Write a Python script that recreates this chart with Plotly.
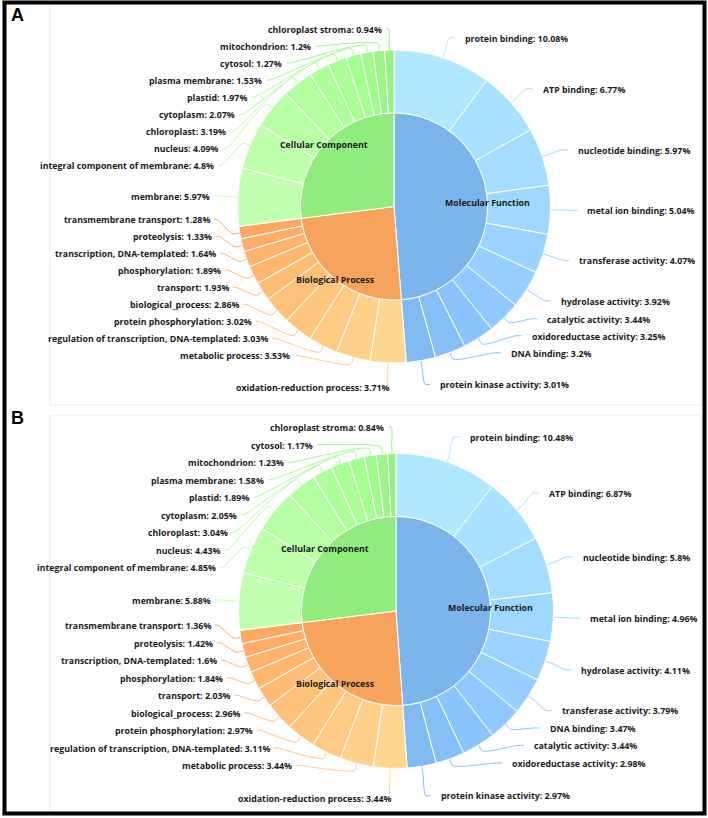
import math
import plotly.graph_objects as go

W, H = 708, 818

CATEGORIES = ["Molecular Function", "Biological Process", "Cellular Component"]
BASE_COLORS = ["#7cb5ec", "#f7a35c", "#90ed7d"]

# ---------------- Panel A data ----------------
A_MF_TERMS = ["protein binding", "ATP binding", "nucleotide binding", "metal ion binding",
              "transferase activity", "hydrolase activity", "catalytic activity",
              "oxidoreductase activity", "DNA binding", "protein kinase activity"]
A_MF_VALUES = [10.08, 6.77, 5.97, 5.04, 4.07, 3.92, 3.44, 3.25, 3.2, 3.01]
A_BP_TERMS = ["oxidation-reduction process", "metabolic process",
              "regulation of transcription, DNA-templated", "protein phosphorylation",
              "biological_process", "transport", "phosphorylation",
              "transcription, DNA-templated", "proteolysis", "transmembrane transport"]
A_BP_VALUES = [3.71, 3.53, 3.03, 3.02, 2.86, 1.93, 1.89, 1.64, 1.33, 1.28]
A_CC_TERMS = ["membrane", "integral component of membrane", "nucleus", "chloroplast",
              "cytoplasm", "plastid", "plasma membrane", "cytosol", "mitochondrion",
              "chloroplast stroma"]
A_CC_VALUES = [5.97, 4.8, 4.09, 3.19, 2.07, 1.97, 1.53, 1.27, 1.2, 0.94]

# ---------------- Panel B data ----------------
B_MF_TERMS = ["protein binding", "ATP binding", "nucleotide binding", "metal ion binding",
              "hydrolase activity", "transferase activity", "DNA binding",
              "catalytic activity", "oxidoreductase activity", "protein kinase activity"]
B_MF_VALUES = [10.48, 6.87, 5.8, 4.96, 4.11, 3.79, 3.47, 3.44, 2.98, 2.97]
B_BP_TERMS = ["oxidation-reduction process", "metabolic process",
              "regulation of transcription, DNA-templated", "protein phosphorylation",
              "biological_process", "transport", "phosphorylation",
              "transcription, DNA-templated", "proteolysis", "transmembrane transport"]
B_BP_VALUES = [3.44, 3.44, 3.11, 2.97, 2.96, 2.03, 1.84, 1.6, 1.42, 1.36]
B_CC_TERMS = ["membrane", "integral component of membrane", "nucleus", "chloroplast",
              "cytoplasm", "plastid", "plasma membrane", "mitochondrion", "cytosol",
              "chloroplast stroma"]
B_CC_VALUES = [5.88, 4.85, 4.43, 3.04, 2.05, 1.89, 1.58, 1.23, 1.17, 0.84]

PANELS = [
    dict(letter="A",
         groups=[(A_MF_TERMS, A_MF_VALUES), (A_BP_TERMS, A_BP_VALUES), (A_CC_TERMS, A_CC_VALUES)],
         cx=394, cy=206.5, R=156.5, Rin=93.5, s=1.0, box=(50, 4, 701, 405), letter_y=15),
    dict(letter="B",
         groups=[(B_MF_TERMS, B_MF_VALUES), (B_BP_TERMS, B_BP_VALUES), (B_CC_TERMS, B_CC_VALUES)],
         cx=396, cy=611, R=157.5, Rin=94.5, s=1.03, box=(50, 415, 701, 813), letter_y=418),
]

LABEL_FONT = dict(family="Open Sans, DejaVu Sans, sans-serif", size=8.8, color="#1a1a1a",
                  weight="bold")


def brighten(hexc, a):
    d = int(a * 255)
    r, g, b = (int(hexc[i:i + 2], 16) for i in (1, 3, 5))
    cl = lambda v: max(0, min(255, v + d))
    return "#%02x%02x%02x" % (cl(r), cl(g), cl(b))


fig = go.Figure()
annotations = []
shapes = []

# page frame
shapes.append(dict(type="rect", xref="x", yref="y", x0=4.5, y0=2.5, x1=704.5, y1=813.5,
                   line=dict(color="black", width=4), layer="above"))

for p in PANELS:
    cx, cy, R, Rin, s = p["cx"], p["cy"], p["R"], p["Rin"], p["s"]
    bx0, by0, bx1, by1 = p["box"]
    shapes.append(dict(type="rect", xref="x", yref="y", x0=bx0, y0=by0, x1=bx1, y1=by1,
                       line=dict(color="#ebebeb", width=1), layer="below"))
    annotations.append(dict(x=9, y=p["letter_y"], xref="x", yref="y", text="<b>%s</b>" % p["letter"],
                            showarrow=False, xanchor="left", yanchor="middle",
                            font=dict(family="Liberation Sans, Arial, sans-serif", size=18, color="black")))

    out_labels, out_values, out_colors = [], [], []
    inner_values = []
    for (terms, vals), base in zip(p["groups"], BASE_COLORS):
        n = len(vals)
        inner_values.append(sum(vals))
        for j, (t, v) in enumerate(zip(terms, vals)):
            out_labels.append(t)
            out_values.append(v)
            out_colors.append(brighten(base, 0.2 - (j / n) / 5))

    # outer ring
    fig.add_trace(go.Pie(
        labels=out_labels, values=out_values, hole=Rin / R, sort=False,
        direction="clockwise", rotation=0, textinfo="none", showlegend=False,
        marker=dict(colors=out_colors, line=dict(color="white", width=1)),
        domain=dict(x=[(cx - R) / W, (cx + R) / W], y=[1 - (cy + R) / H, 1 - (cy - R) / H]),
        hovertemplate="%{label}: %{value}%<extra></extra>"))
    # inner pie
    fig.add_trace(go.Pie(
        labels=CATEGORIES, values=inner_values, sort=False,
        direction="clockwise", rotation=0, textinfo="none", showlegend=False,
        marker=dict(colors=BASE_COLORS, line=dict(color="white", width=1)),
        domain=dict(x=[(cx - Rin) / W, (cx + Rin) / W], y=[1 - (cy + Rin) / H, 1 - (cy - Rin) / H]),
        hovertemplate="%{label}<extra></extra>"))

    # inner labels
    total = sum(inner_values)
    cum = 0
    for cat, v in zip(CATEGORIES, inner_values):
        th = (cum + v / 2) / total * 2 * math.pi
        cum += v
        annotations.append(dict(x=cx + Rin * math.sin(th), y=cy - Rin * math.cos(th) + 0.5,
                                xref="x", yref="y", text=cat, showarrow=False,
                                xanchor="center", yanchor="middle", font=LABEL_FONT))

    # outer labels layout
    total = sum(out_values)
    cum = 0
    items = []
    for t, v, c in zip(out_labels, out_values, out_colors):
        th = (cum + v / 2) / total * 2 * math.pi
        cum += v
        items.append(dict(text="%s: %s%%" % (t, format(v, "g")), th=th, color=c))

    RL = R + 21
    RB = R + 24
    h = 17 * s
    gap_b = 31.5 * s
    for side in (1, -1):
        its = [it for it in items if (it["th"] < math.pi) == (side == 1)]
        for it in its:
            it["y"] = cy - s * RL * math.cos(it["th"])
        its.sort(key=lambda it: it["y"])
        last = its[-1]
        last["y"] = cy - s * RB * math.cos(last["th"])
        last["bottom"] = True
        # push down from the top
        for i in range(1, len(its) - 1):
            its[i]["y"] = max(its[i]["y"], its[i - 1]["y"] + h)
        # push up from the bottom-most label
        for i in range(len(its) - 2, -1, -1):
            lim = its[i + 1]["y"] - (gap_b if i + 1 == len(its) - 1 else h)
            its[i]["y"] = min(its[i]["y"], lim)
        for it in its:
            th = it["th"]
            Y = it["y"]
            p1 = (cx + R * math.sin(th), cy - R * math.cos(th))
            p1b = (cx + (R + 7) * math.sin(th), cy - (R + 7) * math.cos(th))
            if it.get("bottom"):
                x2 = cx + RB * math.sin(th)
                if side == 1:
                    xs = [p1[0], p1b[0], x2, x2 + 5]
                    ys = [p1[1], p1b[1], Y, Y]
                    tx = x2 + 13
                else:
                    xs = [p1[0], p1b[0], x2]
                    ys = [p1[1], p1b[1], Y - 3]
                    tx = x2 + 5
            else:
                dy = (Y - cy) / s
                x2 = cx + side * math.sqrt(max(RL * RL - dy * dy, 0.0))
                xs = [p1[0], p1b[0], x2, x2 + (6 if side == 1 else -3)]
                ys = [p1[1], p1b[1], Y, Y]
                tx = x2 + (14 if side == 1 else -5)
            fig.add_trace(go.Scatter(x=xs, y=ys, mode="lines", showlegend=False, hoverinfo="skip",
                                     line=dict(color=it["color"], width=1, shape="spline", smoothing=0.8)))
            annotations.append(dict(x=tx, y=Y + 1, xref="x", yref="y",
                                    text=it["text"], showarrow=False,
                                    xanchor="left" if side == 1 else "right", yanchor="middle",
                                    font=LABEL_FONT))

fig.update_layout(
    width=W, height=H, margin=dict(l=0, r=0, t=0, b=0, pad=0),
    paper_bgcolor="white", plot_bgcolor="white", showlegend=False,
    xaxis=dict(range=[0, W], visible=False, domain=[0, 1], fixedrange=True),
    yaxis=dict(range=[H, 0], visible=False, domain=[0, 1], fixedrange=True),
    annotations=annotations, shapes=shapes,
)

fig.write_html("out.html", config={"displayModeBar": False},
               post_script="document.body.style.margin='0px';")
